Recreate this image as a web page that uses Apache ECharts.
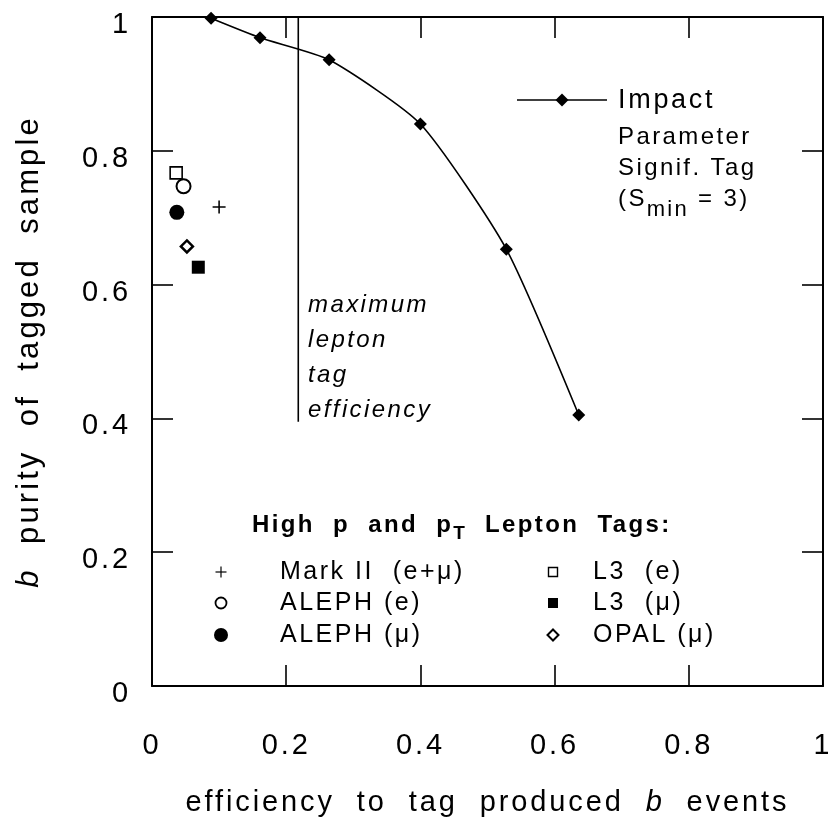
<!DOCTYPE html>
<html>
<head>
<meta charset="utf-8">
<script src="https://cdn.jsdelivr.net/npm/echarts@6/dist/echarts.min.js"></script>
<style>
html,body{margin:0;padding:0;background:#fff;}
#chart{width:828px;height:826px;}
</style>
</head>
<body>
<div id="chart"></div>
<script>
// ---------------- data ----------------
const xTicks = [0, 0.2, 0.4, 0.6, 0.8, 1];
const yTicks = [0, 0.2, 0.4, 0.6, 0.8, 1];

const ipName = 'Impact Parameter Signif. Tag (S_min = 3)';
const ipEff = [0.088, 0.161, 0.264, 0.400, 0.528, 0.636];
const ipPurity = [0.998, 0.969, 0.936, 0.840, 0.653, 0.405];

const lepNames = ['Mark II  (e+μ)', 'ALEPH (e)', 'ALEPH (μ)', 'L3  (e)', 'L3  (μ)', 'OPAL (μ)'];
const lepEff = [0.100, 0.047, 0.037, 0.036, 0.069, 0.052];
const lepPurity = [0.716, 0.747, 0.708, 0.767, 0.626, 0.657];

const maxLeptonEff = 0.218;
const maxLeptonPurity = [0.395, 1.0];

// ---------------- letter spacing (typeset look) ----------------
(function () {
  const P = CanvasRenderingContext2D.prototype;
  if (!('letterSpacing' in P)) return;
  const m0 = P.measureText, f0 = P.fillText;
  function ls(ctx) {
    const m = /(\d+(?:\.\d+)?)px/.exec(ctx.font);
    return m ? Math.round(parseFloat(m[1]) * 0.1 * 10) / 10 : 0;
  }
  P.measureText = function (t) {
    const prev = this.letterSpacing;
    this.letterSpacing = '0px';
    const m = m0.call(this, t);
    this.letterSpacing = prev;
    const extra = ls(this) * Array.from(String(t)).length;
    return {
      width: m.width + extra,
      actualBoundingBoxAscent: m.actualBoundingBoxAscent,
      actualBoundingBoxDescent: m.actualBoundingBoxDescent,
      actualBoundingBoxLeft: m.actualBoundingBoxLeft,
      actualBoundingBoxRight: m.actualBoundingBoxRight + extra,
      fontBoundingBoxAscent: m.fontBoundingBoxAscent,
      fontBoundingBoxDescent: m.fontBoundingBoxDescent
    };
  };
  P.fillText = function (t, x, y, mw) {
    const prev = this.letterSpacing;
    this.letterSpacing = ls(this) + 'px';
    const r = mw === undefined ? f0.call(this, t, x, y) : f0.call(this, t, x, y, mw);
    this.letterSpacing = prev;
    return r;
  };
})();

// ---------------- chart ----------------
const FONT = 'Liberation Sans, Arial, Helvetica, sans-serif';
const chart = echarts.init(document.getElementById('chart'), null, { renderer: 'canvas' });

const plusPath = 'path://M4.4,0H5.6V4.4H10V5.6H5.6V10H4.4V5.6H0V4.4H4.4Z';
const lepStyles = [
  { symbol: plusPath, symbolSize: 13, itemStyle: { color: '#000', opacity: 1 } },
  { symbol: 'circle', symbolSize: 14, itemStyle: { color: '#fff', borderColor: '#000', borderWidth: 2, opacity: 1 } },
  { symbol: 'circle', symbolSize: 15, itemStyle: { color: '#000', opacity: 1 } },
  { symbol: 'rect', symbolSize: 12, itemStyle: { color: '#fff', borderColor: '#000', borderWidth: 1.6, opacity: 1 } },
  { symbol: 'rect', symbolSize: 13, itemStyle: { color: '#000', opacity: 1 } },
  { symbol: 'diamond', symbolSize: 12, itemStyle: { color: '#fff', borderColor: '#000', borderWidth: 2.5, opacity: 1 } }
];

const axisCommon = {
  type: 'value', min: 0, max: 1, interval: 0.2,
  axisLine: { show: true, onZero: false, lineStyle: { color: '#000', width: 2 } },
  axisTick: { show: true, inside: true, length: 21, lineStyle: { color: '#000', width: 1.6 } },
  splitLine: { show: false }
};

const series = [
  {
    name: ipName, type: 'line', xAxisIndex: 0, yAxisIndex: 0,
    data: ipEff.map((x, i) => [x, ipPurity[i]]),
    smooth: 0.2,
    symbol: 'diamond', symbolSize: 13,
    lineStyle: { color: '#000', width: 1.6 },
    itemStyle: { color: '#000', opacity: 1 },
    z: 5
  },
  {
    name: 'maximum lepton tag efficiency', type: 'line', xAxisIndex: 0, yAxisIndex: 0,
    data: maxLeptonPurity.map(y => [maxLeptonEff, y]),
    symbol: 'none',
    lineStyle: { color: '#000', width: 1.6 }
  }
];
lepNames.forEach((n, i) => {
  series.push(Object.assign({
    name: n, type: 'scatter', xAxisIndex: 0, yAxisIndex: 0,
    data: [[lepEff[i], lepPurity[i]]], z: 6
  }, lepStyles[i]));
});

// legend / annotation graphics
const g = [];
// impact parameter legend icon
g.push({ type: 'line', shape: { x1: 517, y1: 100, x2: 607, y2: 100 }, style: { stroke: '#000', lineWidth: 1.6 } });
g.push({ type: 'polygon', shape: { points: [[562, 93.5], [568.5, 100], [562, 106.5], [555.5, 100]] }, style: { fill: '#000' } });
g.push({ type: 'text', x: 618, y: 101, style: { text: 'Impact', font: '27px ' + FONT, fill: '#000', textVerticalAlign: 'middle' } });
g.push({ type: 'text', x: 618, y: 137, style: { text: 'Parameter', font: '24px ' + FONT, fill: '#000', textVerticalAlign: 'middle' } });
g.push({ type: 'text', x: 618, y: 168, style: { text: 'Signif. Tag', font: '24px ' + FONT, fill: '#000', textVerticalAlign: 'middle' } });
g.push({ type: 'text', x: 618, y: 199, style: {
  text: '{a|(S}{s|min}{a| = 3)}', fill: '#000', textVerticalAlign: 'middle',
  rich: { a: { fontSize: 24, fontFamily: FONT, lineHeight: 30, verticalAlign: 'middle' },
          s: { fontSize: 22, fontFamily: FONT, lineHeight: 30, padding: [22, 0, 0, 0] } }
} });
// maximum lepton tag efficiency label
g.push({ type: 'text', x: 308, y: 288, style: {
  text: 'maximum\nlepton\ntag\nefficiency', font: 'italic 24px ' + FONT, fill: '#000', lineHeight: 35, textVerticalAlign: 'top'
} });
// lower legend title
g.push({ type: 'text', x: 252, y: 525, style: {
  text: '{a|High  p  and  p}{s|T}{a|  Lepton  Tags:}', fill: '#000', textVerticalAlign: 'middle',
  rich: { a: { fontSize: 24, fontWeight: 'bold', fontFamily: FONT, lineHeight: 30 },
          s: { fontSize: 19, fontWeight: 'bold', fontFamily: FONT, lineHeight: 30, padding: [18, 0, 0, 0] } }
} });
// lower legend rows
const rowY = [572, 603, 635];
const colSymX = [221, 553];
const colTextX = [280, 593];
lepNames.forEach((n, i) => {
  const col = i < 3 ? 0 : 1, row = i % 3;
  g.push({ type: 'text', x: colTextX[col], y: rowY[row], style: { text: n, font: '25px ' + FONT, fill: '#000', textVerticalAlign: 'middle' } });
});
// legend symbols
g.push({ type: 'rect', shape: { x: 221 - 5.5, y: 572 - 0.6, width: 11, height: 1.2 }, style: { fill: '#000' } });
g.push({ type: 'rect', shape: { x: 221 - 0.6, y: 572 - 5.5, width: 1.2, height: 11 }, style: { fill: '#000' } });
g.push({ type: 'circle', shape: { cx: 221, cy: 603, r: 5.5 }, style: { fill: '#fff', stroke: '#000', lineWidth: 1.8 } });
g.push({ type: 'circle', shape: { cx: 221, cy: 635, r: 7 }, style: { fill: '#000' } });
g.push({ type: 'rect', shape: { x: 553 - 4.5, y: 572 - 4.5, width: 9, height: 9 }, style: { fill: '#fff', stroke: '#000', lineWidth: 1.4 } });
g.push({ type: 'rect', shape: { x: 553 - 5, y: 603 - 5, width: 10, height: 10 }, style: { fill: '#000' } });
g.push({ type: 'polygon', shape: { points: [[553, 629.5], [558.5, 635], [553, 640.5], [547.5, 635]] }, style: { fill: '#fff', stroke: '#000', lineWidth: 2 } });

const option = {
  backgroundColor: '#fff',
  animation: false,
  textStyle: { fontFamily: FONT, color: '#000' },
  grid: { left: 152, right: 5, top: 17, bottom: 140, containLabel: false, outerBoundsMode: 'none' },
  xAxis: [
    Object.assign({}, axisCommon, {
      position: 'bottom',
      axisLabel: { show: true, color: '#000', fontSize: 29, fontFamily: FONT, margin: 45, lineHeight: 30,
        formatter: v => String(+v.toFixed(1)) },
      name: 'efficiency  to  tag  produced  {i|b}  events',
      nameLocation: 'middle', nameGap: 101,
      nameTextStyle: { color: '#000', fontSize: 29, fontFamily: FONT, lineHeight: 32,
        rich: { i: { fontSize: 29, fontStyle: 'italic', fontFamily: FONT, lineHeight: 32 } } }
    }),
    Object.assign({}, axisCommon, { position: 'top', axisLabel: { show: false } })
  ],
  yAxis: [
    Object.assign({}, axisCommon, {
      position: 'left',
      axisLabel: { show: true, color: '#000', fontSize: 29, fontFamily: FONT, margin: 21,
        verticalAlign: 'top', lineHeight: 16,
        formatter: v => String(+v.toFixed(1)) },
      name: '{i|b}  purity  of  tagged  sample',
      nameLocation: 'middle', nameGap: 106, nameRotate: 90,
      nameTextStyle: { color: '#000', fontSize: 31, fontFamily: FONT, lineHeight: 34,
        rich: { i: { fontSize: 31, fontStyle: 'italic', fontFamily: FONT, lineHeight: 34 } } }
    }),
    Object.assign({}, axisCommon, { position: 'right', axisLabel: { show: false } })
  ],
  series: series,
  graphic: { elements: g }
};
chart.setOption(option);
</script>
</body>
</html>
